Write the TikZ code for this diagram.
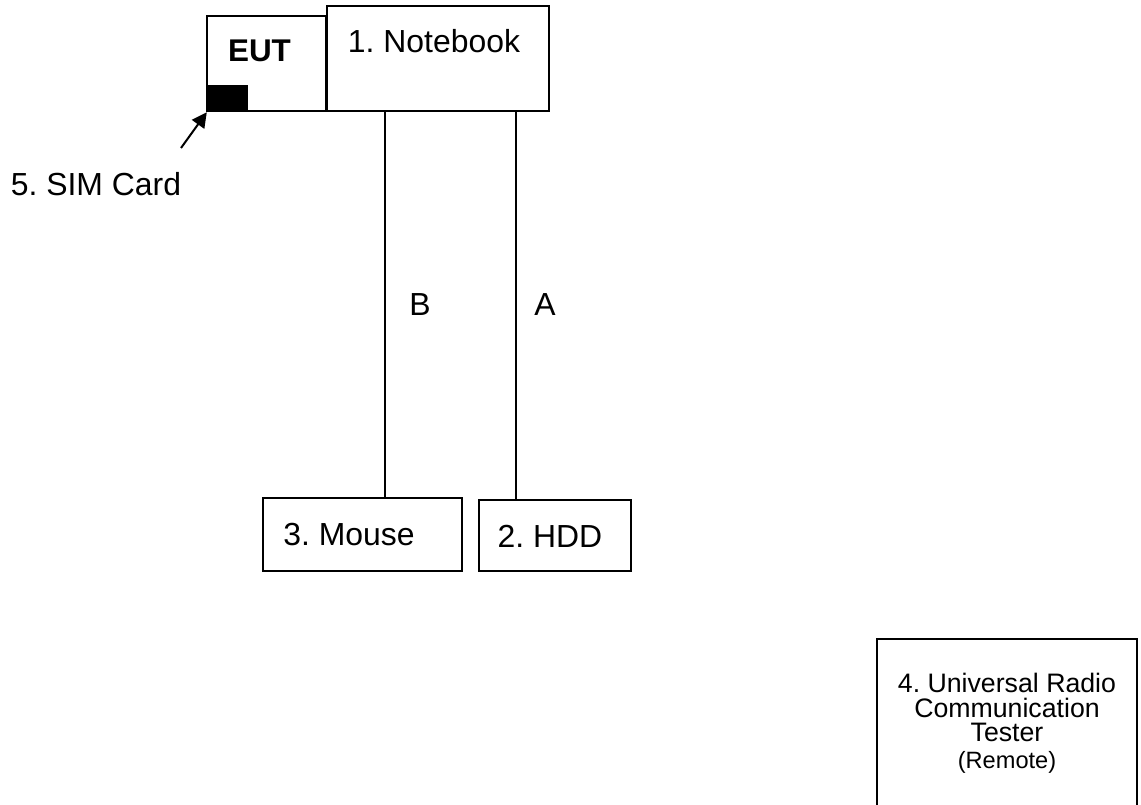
\documentclass[tikz,border=0pt]{standalone}
\usepackage{fontspec}
\setmainfont{Liberation Sans}
\usetikzlibrary{arrows.meta}
\begin{document}
\frenchspacing
\begin{tikzpicture}[x=1pt,y=-1pt,
 box/.style={draw,line width=2pt,fill=white,inner sep=0pt},
 lbl/.style={inner sep=0pt,font=\fontsize{31.9}{34}\selectfont,anchor=base},
 wire/.style={line width=2pt}]
\useasboundingbox (0,0) rectangle (1141,805);
\clip (0,0) rectangle (1141,805);
\path[fill=white] (0,0) rectangle (1141,805);
\node[box,minimum width=119pt,minimum height=95.5pt] (eut) at (266.5,63.7) {};
\node[box,minimum width=222pt,minimum height=105pt] (nb) at (437.5,59) {};
\node[lbl,font=\fontsize{31.4}{34}\selectfont\bfseries] (eutl) at (259.5,62) {EUT};
\node[lbl] (nbl) at (434,52.8) {1. Notebook};
\node[draw=none,fill=black,minimum width=41pt,minimum height=27pt,inner sep=0pt] (sim) at (227.5,98.5) {};
\node[lbl] (siml) at (96,196) {5. SIM Card};
\coordinate (arrs) at (181,148);
\draw[line width=2pt,-{Triangle[length=15pt,width=15pt]}] (arrs) -- (sim.south west);
\node[box,minimum width=199pt,minimum height=72.5pt] (mouse) at (362.5,534.7) {};
\node[box,minimum width=152pt,minimum height=70.5pt] (hdd) at (555,535.7) {};
\node[lbl] at (349,545) {3. Mouse};
\node[lbl] at (550,547) {2. HDD};
\coordinate (b1) at (385,111);
\coordinate (a1) at (516,111);
\draw[wire] (nb.south -| b1) -- (b1 |- mouse.north);
\draw[wire] (nb.south -| a1) -- (a1 |- hdd.north);
\node[lbl] at (420,315.5) {B};
\node[lbl] at (545,315.5) {A};
\node[box,minimum width=260pt,minimum height=190pt] (urc) at (1007,734) {};
\node[inner sep=0pt,align=center,font=\fontsize{26.7}{24.4}\selectfont] at (1007,723.6) {4. Universal Radio\\Communication\\Tester\\[2.5pt]{\fontsize{23.6}{22}\selectfont (Remote)}};
\end{tikzpicture}
\end{document}
